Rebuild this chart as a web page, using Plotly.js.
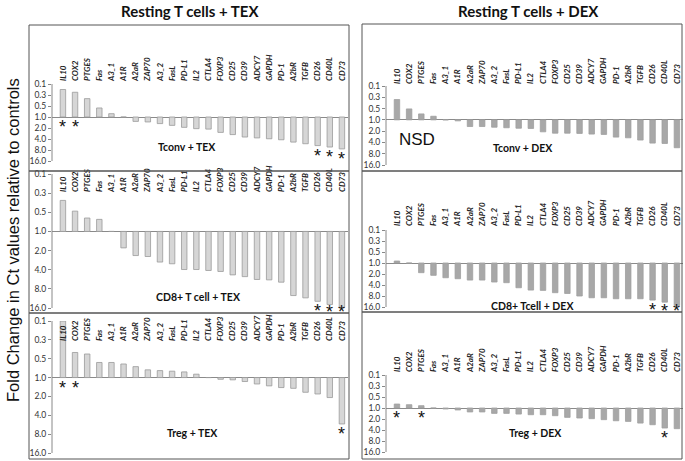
<!DOCTYPE html>
<html>
<head>
<meta charset="utf-8">
<script src="https://cdn.plot.ly/plotly-3.0.1.min.js"></script>
<style>html,body{margin:0;padding:0;background:#fff;}#chart{width:685px;height:461px;}</style>
</head>
<body>
<div id="chart"></div>
<script>
// Axis steps: -3=0.1, -2=0.3, -1=0.5, 0=1.0, 1=2.0, 2=4.0, 3=8.0, 4=16.0 (fold change, evenly spaced)
const categories = ['IL10','COX2','PTGES','Fas','A3_1','A1R','A2aR','ZAP70','A3_2','FasL','PD-L1','IL2','CTLA4','FOXP3','CD25','CD39','ADCY7','GAPDH','PD-1','A2bR','TGFB','CD26','CD40L','CD73'];
const tickVals = [-3,-2,-1,0,1,2,3,4];
const tickText = ['0.1','0.3','0.5','1.0','2.0','4.0','8.0','16.0'];

const tconvTex  = [-2.5,-2.25,-1.67,-0.82,-0.3,0,0.4,0.45,0.6,0.76,0.94,1.06,1.1,1.4,1.6,1.82,1.9,1.98,2.07,2.28,2.43,2.6,2.73,2.9];
const cd8Tex    = [-1.62,-1.06,-0.7,-0.63,0,0.86,1.26,1.31,1.6,1.69,1.99,1.99,2.04,2.09,2.27,2.36,2.51,2.53,2.65,3.35,3.47,3.65,3.82,3.96];
const tregTex   = [-3,-1.33,-1.25,-0.8,-0.8,-0.72,-0.58,-0.41,-0.37,-0.34,-0.3,-0.18,0,0.09,0.12,0.21,0.34,0.44,0.53,0.57,0.78,0.87,1.06,2.46];
const tconvDex  = [-1.8,-0.97,-0.53,-0.32,0,0.09,0.59,0.59,0.65,0.7,0.74,0.76,1.06,1.18,1.18,1.2,1.26,1.29,1.53,1.59,1.79,2.06,2.09,2.47];
const cd8Dex    = [-0.18,0,0.88,1.12,1.34,1.43,1.55,1.55,1.73,1.79,2.25,2.46,2.49,2.7,2.77,3.0,3.16,3.16,3.25,3.25,3.25,3.37,3.56,3.86];
const tregDex   = [-0.36,-0.3,-0.21,0,0.09,0.18,0.36,0.36,0.49,0.49,0.55,0.61,0.61,0.7,0.85,0.91,0.97,1.06,1.16,1.22,1.37,1.52,1.82,1.88];

const starsTconvTex = ['IL10','COX2','CD26','CD40L','CD73'];
const starsCd8Tex   = ['CD26','CD40L','CD73'];
const starsTregTex  = ['IL10','COX2','CD73'];
const starsTconvDex = [];
const starsCd8Dex   = ['CD26','CD40L','CD73'];
const starsTregDex  = ['IL10','PTGES','CD40L'];

const panelNames = ['Tconv + TEX','CD8+ T cell + TEX','Treg + TEX','Tconv + DEX','CD8+ Tcell + DEX','Treg + DEX'];
const columnTitles = ['Resting T cells + TEX','Resting T cells + DEX'];
const yTitle = 'Fold Change in Ct values relative to controls';

const W = 685, H = 461;
const py = v => 1 - v / H;
const px = v => v / W;

// layout geometry (pixels)
const geo = [
  {vals:tconvTex, stars:starsTconvTex, x0:52, x1:348, yTop:84, yBot:161, lab:81, box:[29,25,349,171], name:[187,147], fill:'#d6d6d6', edge:'#9a9a9a'},
  {vals:cd8Tex, stars:starsCd8Tex, x0:52, x1:348, yTop:174, yBot:308, lab:192, box:[29,171,349,313], name:[198,297], fill:'#d6d6d6', edge:'#9a9a9a'},
  {vals:tregTex, stars:starsTregTex, x0:52, x1:348, yTop:321, yBot:453, lab:341, box:[29,313,349,459], name:[192,433], fill:'#d6d6d6', edge:'#9a9a9a'},
  {vals:tconvDex, stars:starsTconvDex, x0:386, x1:683, yTop:86, yBot:165, lab:84, box:[362,24,682,171], name:[523,148], fill:'#a8a8a8', edge:'#a0a0a0'},
  {vals:cd8Dex, stars:starsCd8Dex, x0:386, x1:683, yTop:230, yBot:307, lab:226, box:[362,171,682,312], name:[532,306], fill:'#a8a8a8', edge:'#a0a0a0'},
  {vals:tregDex, stars:starsTregDex, x0:386, x1:683, yTop:375, yBot:452, lab:372, box:[362,312,682,459], name:[535,433], fill:'#a8a8a8', edge:'#a0a0a0'}
];

const data = [];
const layout = {
  width: W, height: H,
  margin: {l:0, r:0, t:0, b:0},
  paper_bgcolor: '#fff', plot_bgcolor: 'rgba(0,0,0,0)',
  showlegend: false,
  bargap: 0.55,
  shapes: [], annotations: []
};

geo.forEach((g, i) => {
  const n = i + 1;
  const xa = 'x' + (n === 1 ? '' : n), ya = 'y' + (n === 1 ? '' : n);
  const xk = 'xaxis' + (n === 1 ? '' : n), yk = 'yaxis' + (n === 1 ? '' : n);
  data.push({
    type: 'bar', x: categories, y: g.vals, xaxis: xa, yaxis: ya,
    marker: {color: g.fill, line: {color: g.edge, width: 0.8}},
    hoverinfo: 'x+y'
  });
  const pxPerUnit = (g.yBot - g.yTop) / 7;
  // extra axis room below 16.0 so asterisks stay visible (limited by page height)
  const ext = Math.min(1.0, (H - g.yBot - 1) / pxPerUnit);
  const offUnits = 10 / pxPerUnit;
  const cap = 4 + 4 / pxPerUnit;
  g.stars.forEach(c => {
    const v = g.vals[categories.indexOf(c)];
    layout.annotations.push({
      xref: xa, yref: ya, x: c, y: Math.min(Math.max(v, 0) + offUnits, cap), text: '*',
      showarrow: false, xanchor: 'center', yanchor: 'middle',
      font: {size: 18, color: '#111', family: 'Liberation Sans, Arial'}
    });
  });
  layout[xk] = {
    domain: [px(g.x0), px(g.x1)],
    range: [-0.9, 23.5],
    type: 'category',
    anchor: 'free', position: py(g.lab), side: 'top',
    tickangle: -90, ticks: '', showline: false, showgrid: false, zeroline: false,
    tickfont: {size: 8, color: '#222', family: 'Liberation Sans Narrow, Lato, Arial', style: 'italic', weight: 'bold'},
    fixedrange: true
  };
  layout[yk] = {
    domain: [py(g.yBot + ext * pxPerUnit), py(g.yTop)],
    range: [4 + ext, -3],
    anchor: xa,
    tickvals: tickVals, ticktext: tickText,
    ticks: 'outside', ticklen: 3, tickcolor: '#888',
    showline: false,
    showgrid: false,
    zeroline: true, zerolinecolor: '#8a8a8a', zerolinewidth: 1,
    tickfont: {size: 8.5, color: '#333', family: 'Lato, Arial'},
    fixedrange: true
  };
  // y axis line from 0.1 to 16.0
  layout.shapes.push({
    type: 'line', xref: xa + ' domain', yref: ya, x0: 0, x1: 0, y0: -3, y1: 4,
    line: {color: '#888', width: 1}
  });
  layout.shapes.push({
    type: 'rect', xref: 'paper', yref: 'paper',
    x0: px(g.box[0]), x1: px(g.box[2]), y0: py(g.box[3]), y1: py(g.box[1]),
    line: {color: '#555', width: 1}, fillcolor: 'rgba(0,0,0,0)', layer: 'above'
  });
  layout.annotations.push({
    xref: 'paper', yref: 'paper', x: px(g.name[0]), y: py(g.name[1]),
    text: '<b>' + panelNames[i] + '</b>', showarrow: false,
    xanchor: 'center', yanchor: 'middle',
    font: {size: 10.5, color: '#111', family: 'Lato, Arial'}
  });
});

// NSD label
layout.annotations.push({
  xref: 'paper', yref: 'paper', x: px(417), y: py(140), text: 'NSD', showarrow: false,
  xanchor: 'center', yanchor: 'middle', font: {size: 17, color: '#111', family: 'Liberation Sans, Arial'}
});
// column titles
layout.annotations.push({
  xref: 'paper', yref: 'paper', x: px(190), y: py(11), text: '<b>' + columnTitles[0] + '</b>', showarrow: false,
  xanchor: 'center', yanchor: 'middle', font: {size: 15, color: '#111', family: 'Lato, Arial'}
});
layout.annotations.push({
  xref: 'paper', yref: 'paper', x: px(528), y: py(11), text: '<b>' + columnTitles[1] + '</b>', showarrow: false,
  xanchor: 'center', yanchor: 'middle', font: {size: 15, color: '#111', family: 'Lato, Arial'}
});
// y title
layout.annotations.push({
  xref: 'paper', yref: 'paper', x: px(13), y: py(240), text: yTitle, showarrow: false, textangle: -90,
  xanchor: 'center', yanchor: 'middle', font: {size: 16.5, color: '#111', family: 'Liberation Sans, Arial'}
});

Plotly.newPlot('chart', data, layout, {displayModeBar: false, staticPlot: true});
</script>
</body>
</html>
